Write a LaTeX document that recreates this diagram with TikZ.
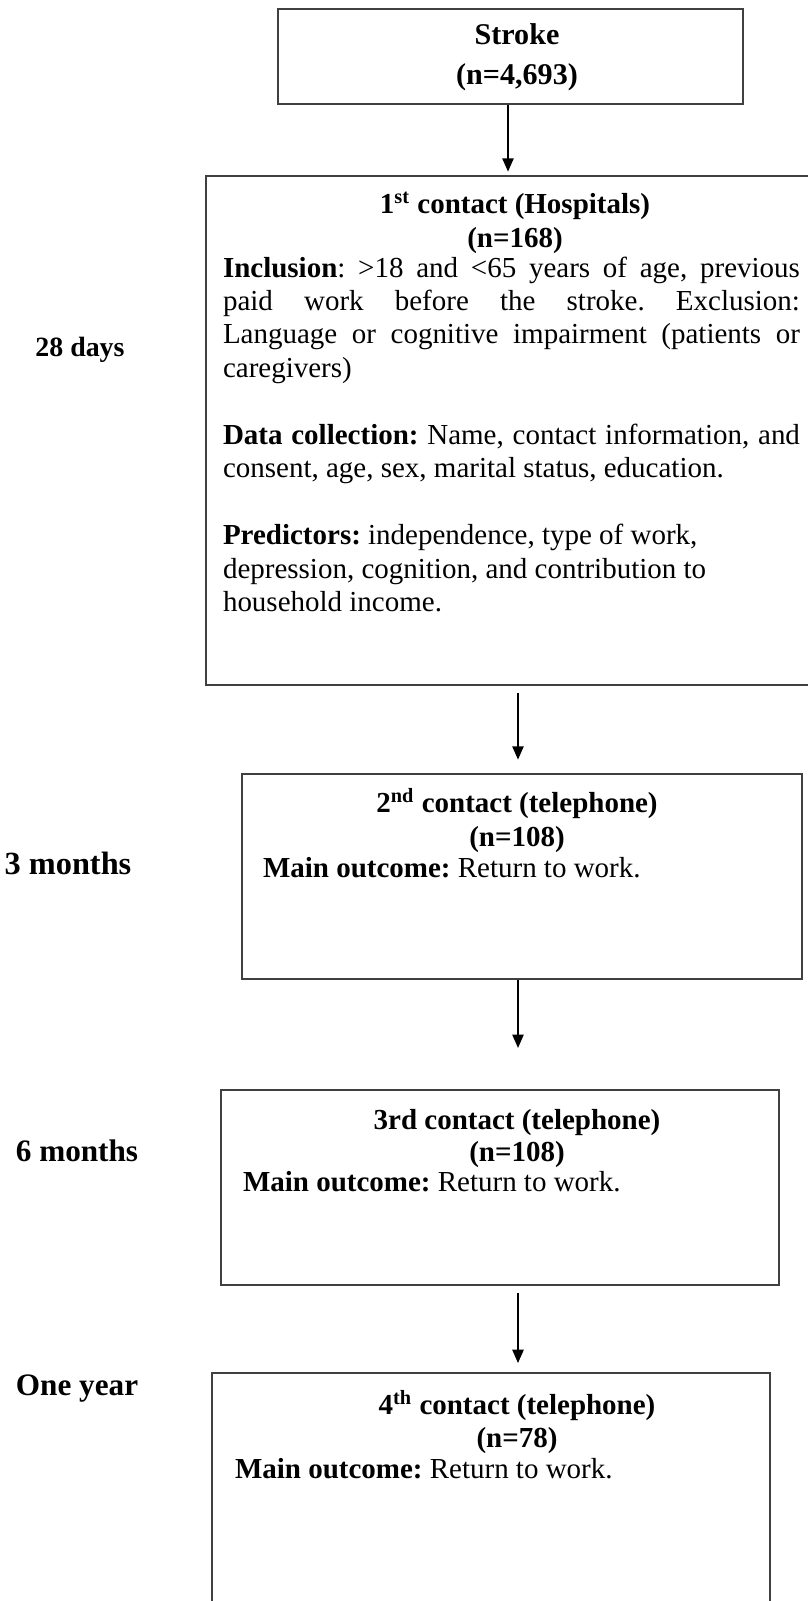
\documentclass[tikz,border=0pt]{standalone}
\usepackage{fontspec}
\setmainfont{Liberation Serif}
\usetikzlibrary{arrows.meta}
\hbadness=10000
\frenchspacing

\tikzset{
  box/.style={draw=black!75, line width=0.9pt, inner sep=0pt},
  head/.style={font=\bfseries\fontsize{13}{15}\selectfont, inner sep=0pt, anchor=base},
  body/.style={font=\fontsize{13}{15}\selectfont, inner sep=0pt, anchor=base west},
  lbl/.style={font=\bfseries\fontsize{14}{16}\selectfont, inner sep=0pt},
}

\begin{document}
\begin{tikzpicture}[x=0.4484pt, y=-0.4484pt, >={Triangle[length=6pt,width=5pt]}, line width=0.9pt]
    \useasboundingbox (0,0) rectangle (808,1601);
    \node[box, minimum width=208.5pt, minimum height=42.6pt] (stroke) at (510.5,56.5) {};
    \node[align=center, inner sep=0pt, font=\bfseries\fontsize{13.5}{18}\selectfont] (s0) at (517,57) {Stroke\\(n=4,693)};
    \node[box, minimum width=270.8pt, minimum height=228.2pt] (c1) at (508,430.5) {};
    \node[box, minimum width=251.1pt, minimum height=91.9pt] (c2) at (522,876.5) {};
    \node[box, minimum width=250.2pt, minimum height=87.4pt] (c3) at (500,1187.5) {};
    \node[box, minimum width=250.2pt, minimum height=108.5pt] (c4) at (491,1494) {};
    % 第一次接触
    \node[head] (t1) at (515,213) {1\textsuperscript{st} contact (Hospitals)};
    \node[head] (n1) at (515,247) {(n=168)};
    \node[body, text width=258.7pt, align=justify] (b1) at (222,277) {%
      \textbf{Inclusion}: >18 and <65 years of age, previous\linebreak
      paid work before the stroke. Exclusion:\linebreak
      Language or cognitive impairment (patients or\linebreak
      caregivers)\par\vspace{15pt}
      \textbf{Data collection:} Name, contact information, and\linebreak
      consent, age, sex, marital status, education.\par\vspace{15pt}
      \textbf{Predictors:} independence, type of work,\\
      depression, cognition, and contribution to\\
      household income.};
    % 电话随访
    \node[head] (t2) at (517,812) {2\textsuperscript{nd} contact (telephone)};
    \node[head] (n2) at (517,846) {(n=108)};
    \node[body] (o2) at (262,877) {\textbf{Main outcome:} Return to work.};
    \node[head] (t3) at (517,1129) {3rd contact (telephone)};
    \node[head] (n3) at (517,1161) {(n=108)};
    \node[body] (o3) at (242,1191) {\textbf{Main outcome:} Return to work.};
    \node[head] (t4) at (517,1414) {4\textsuperscript{th} contact (telephone)};
    \node[head] (n4) at (517,1447) {(n=78)};
    \node[body] (o4) at (234,1478) {\textbf{Main outcome:} Return to work.};
    % 时间
    \node[lbl, font=\bfseries\fontsize{12.5}{16}\selectfont] (d28) at (80,350) {28 days};
    \node[lbl, font=\bfseries\fontsize{14.5}{16}\selectfont] (m3) at (68,863) {3 months};
    \node[lbl] (m6) at (77,1151) {6 months};
    \node[lbl] (y1) at (77,1389) {One year};
    % 箭头
    \coordinate (ax) at (518,0);
    \draw[->, shorten >=1.5pt] (stroke.south -| c1.north) -- (c1.north);
    \draw[->, shorten <=3pt, shorten >=6pt] (c1.south -| ax) -- (c2.north -| ax);
    \draw[->, shorten >=18.4pt] (c2.south -| ax) -- (c3.north -| ax);
    \draw[->, shorten <=3pt, shorten >=4pt] (c3.south -| ax) -- (c4.north -| ax);
\end{tikzpicture}
\end{document}
